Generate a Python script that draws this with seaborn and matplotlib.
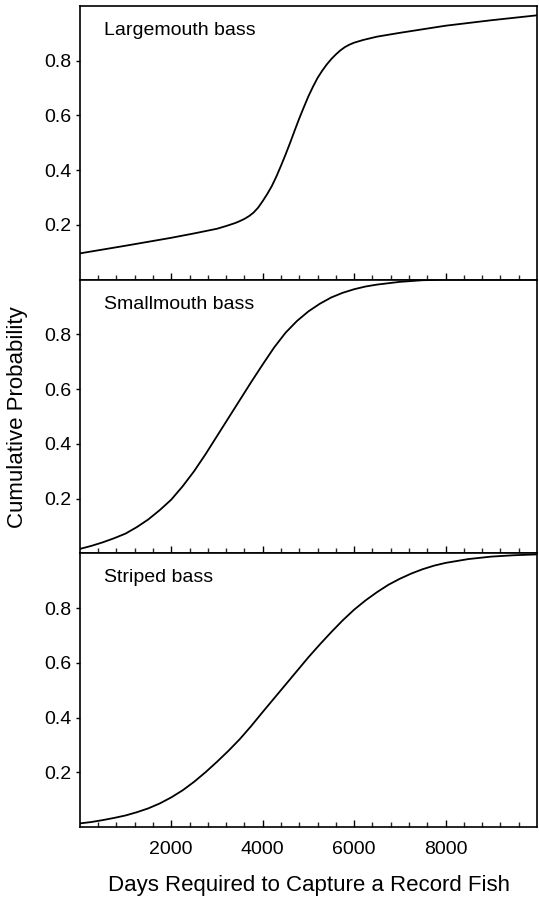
import numpy as np
import pandas as pd
import matplotlib
matplotlib.use("Agg")
import matplotlib.pyplot as plt
import matplotlib.ticker as mticker
import seaborn as sns

# values
lm_days = [0, 1000, 2000, 2500, 3000, 3200, 3400, 3500, 3600, 3700, 3800, 3900,
           4000, 4100, 4200, 4300, 4400, 4500, 4600, 4700, 4800, 4900, 5000, 5100,
           5200, 5300, 5400, 5500, 5600, 5700, 5800, 5900, 6000, 6200, 6500, 7000,
           8000, 9000, 10000]
lm_prob = [0.096, 0.124, 0.153, 0.169, 0.186, 0.196, 0.207, 0.214, 0.222, 0.232, 0.245, 0.263,
           0.287, 0.313, 0.342, 0.377, 0.416, 0.457, 0.500, 0.545, 0.589, 0.630, 0.670, 0.705,
           0.737, 0.763, 0.786, 0.806, 0.823, 0.838, 0.850, 0.859, 0.866, 0.876, 0.888, 0.902,
           0.928, 0.948, 0.966]

sm_days = [0, 250, 500, 750, 1000, 1250, 1500, 1750, 2000, 2250, 2500, 2750,
           3000, 3250, 3500, 3750, 4000, 4250, 4500, 4750, 5000, 5250, 5500, 5750,
           6000, 6250, 6500, 7000, 7500, 8000, 9000, 10000]
sm_prob = [0.016, 0.027, 0.040, 0.055, 0.072, 0.096, 0.124, 0.158, 0.196, 0.245, 0.300, 0.362,
           0.428, 0.494, 0.560, 0.626, 0.690, 0.752, 0.806, 0.849, 0.884, 0.912, 0.935, 0.952,
           0.965, 0.975, 0.982, 0.992, 0.998, 1.0, 1.0, 1.0]

sb_days = [0, 250, 500, 750, 1000, 1250, 1500, 1750, 2000, 2250, 2500, 2750,
           3000, 3250, 3500, 3750, 4000, 4250, 4500, 4750, 5000, 5250, 5500, 5750,
           6000, 6250, 6500, 6750, 7000, 7250, 7500, 7750, 8000, 8500, 9000, 9500, 10000]
sb_prob = [0.013, 0.018, 0.025, 0.033, 0.042, 0.054, 0.068, 0.086, 0.108, 0.134, 0.165, 0.200,
           0.238, 0.278, 0.321, 0.369, 0.420, 0.470, 0.520, 0.570, 0.620, 0.667, 0.712, 0.755,
           0.794, 0.828, 0.858, 0.885, 0.907, 0.926, 0.942, 0.955, 0.965, 0.979, 0.988, 0.993, 0.996]

species = ['Largemouth bass', 'Smallmouth bass', 'Striped bass']
x_major = [2000, 4000, 6000, 8000]
y_ticks = [0.2, 0.4, 0.6, 0.8]

series = [(lm_days, lm_prob), (sm_days, sm_prob), (sb_days, sb_prob)]

sns.set_style("ticks")
plt.rcParams['font.family'] = ['Liberation Sans', 'DejaVu Sans']

fig, axes = plt.subplots(nrows=3, ncols=1, figsize=(5.39, 8.98), dpi=100, sharex=True)
fig.subplots_adjust(left=0.148, right=0.9963, top=0.9933, bottom=0.0791, hspace=0)

minor = [v for v in np.arange(400, 10000, 400) if v not in x_major]

for ax, name, (d, p) in zip(axes, species, series):
    df = pd.DataFrame({'days': d, 'prob': p})
    sns.lineplot(x='days', y='prob', data=df, color='black', linewidth=1.3, ax=ax)
    ax.set_xlim(0, 10000)
    ax.set_ylim(0, 1)
    ax.set_xlabel('')
    ax.set_ylabel('')
    ax.xaxis.set_major_locator(mticker.FixedLocator(x_major))
    ax.xaxis.set_minor_locator(mticker.FixedLocator(minor))
    ax.set_yticks(y_ticks)
    ax.set_yticklabels([f"{v:.1f}" for v in y_ticks])
    ax.tick_params(axis='x', which='major', direction='in', length=5, width=1, pad=10,
                   labelsize=14, colors='black')
    ax.tick_params(axis='x', which='minor', direction='in', length=3.5, width=1)
    ax.tick_params(axis='y', which='major', direction='out', length=3, width=1, pad=3,
                   labelsize=14, colors='black')
    for s in ax.spines.values():
        s.set_visible(True)
        s.set_linewidth(1.2)
        s.set_color('black')
    ax.text(0.053, 0.91, name, transform=ax.transAxes, fontsize=14, va='center', ha='left',
            color='black')

fig.text(0.033, 0.535, 'Cumulative Probability', rotation=90, fontsize=16,
         va='center', ha='center', color='black')
fig.text(0.5725, 0.0134, 'Days Required to Capture a Record Fish', fontsize=16,
         va='center', ha='center', color='black')

fig.savefig('out.png', dpi=100)
